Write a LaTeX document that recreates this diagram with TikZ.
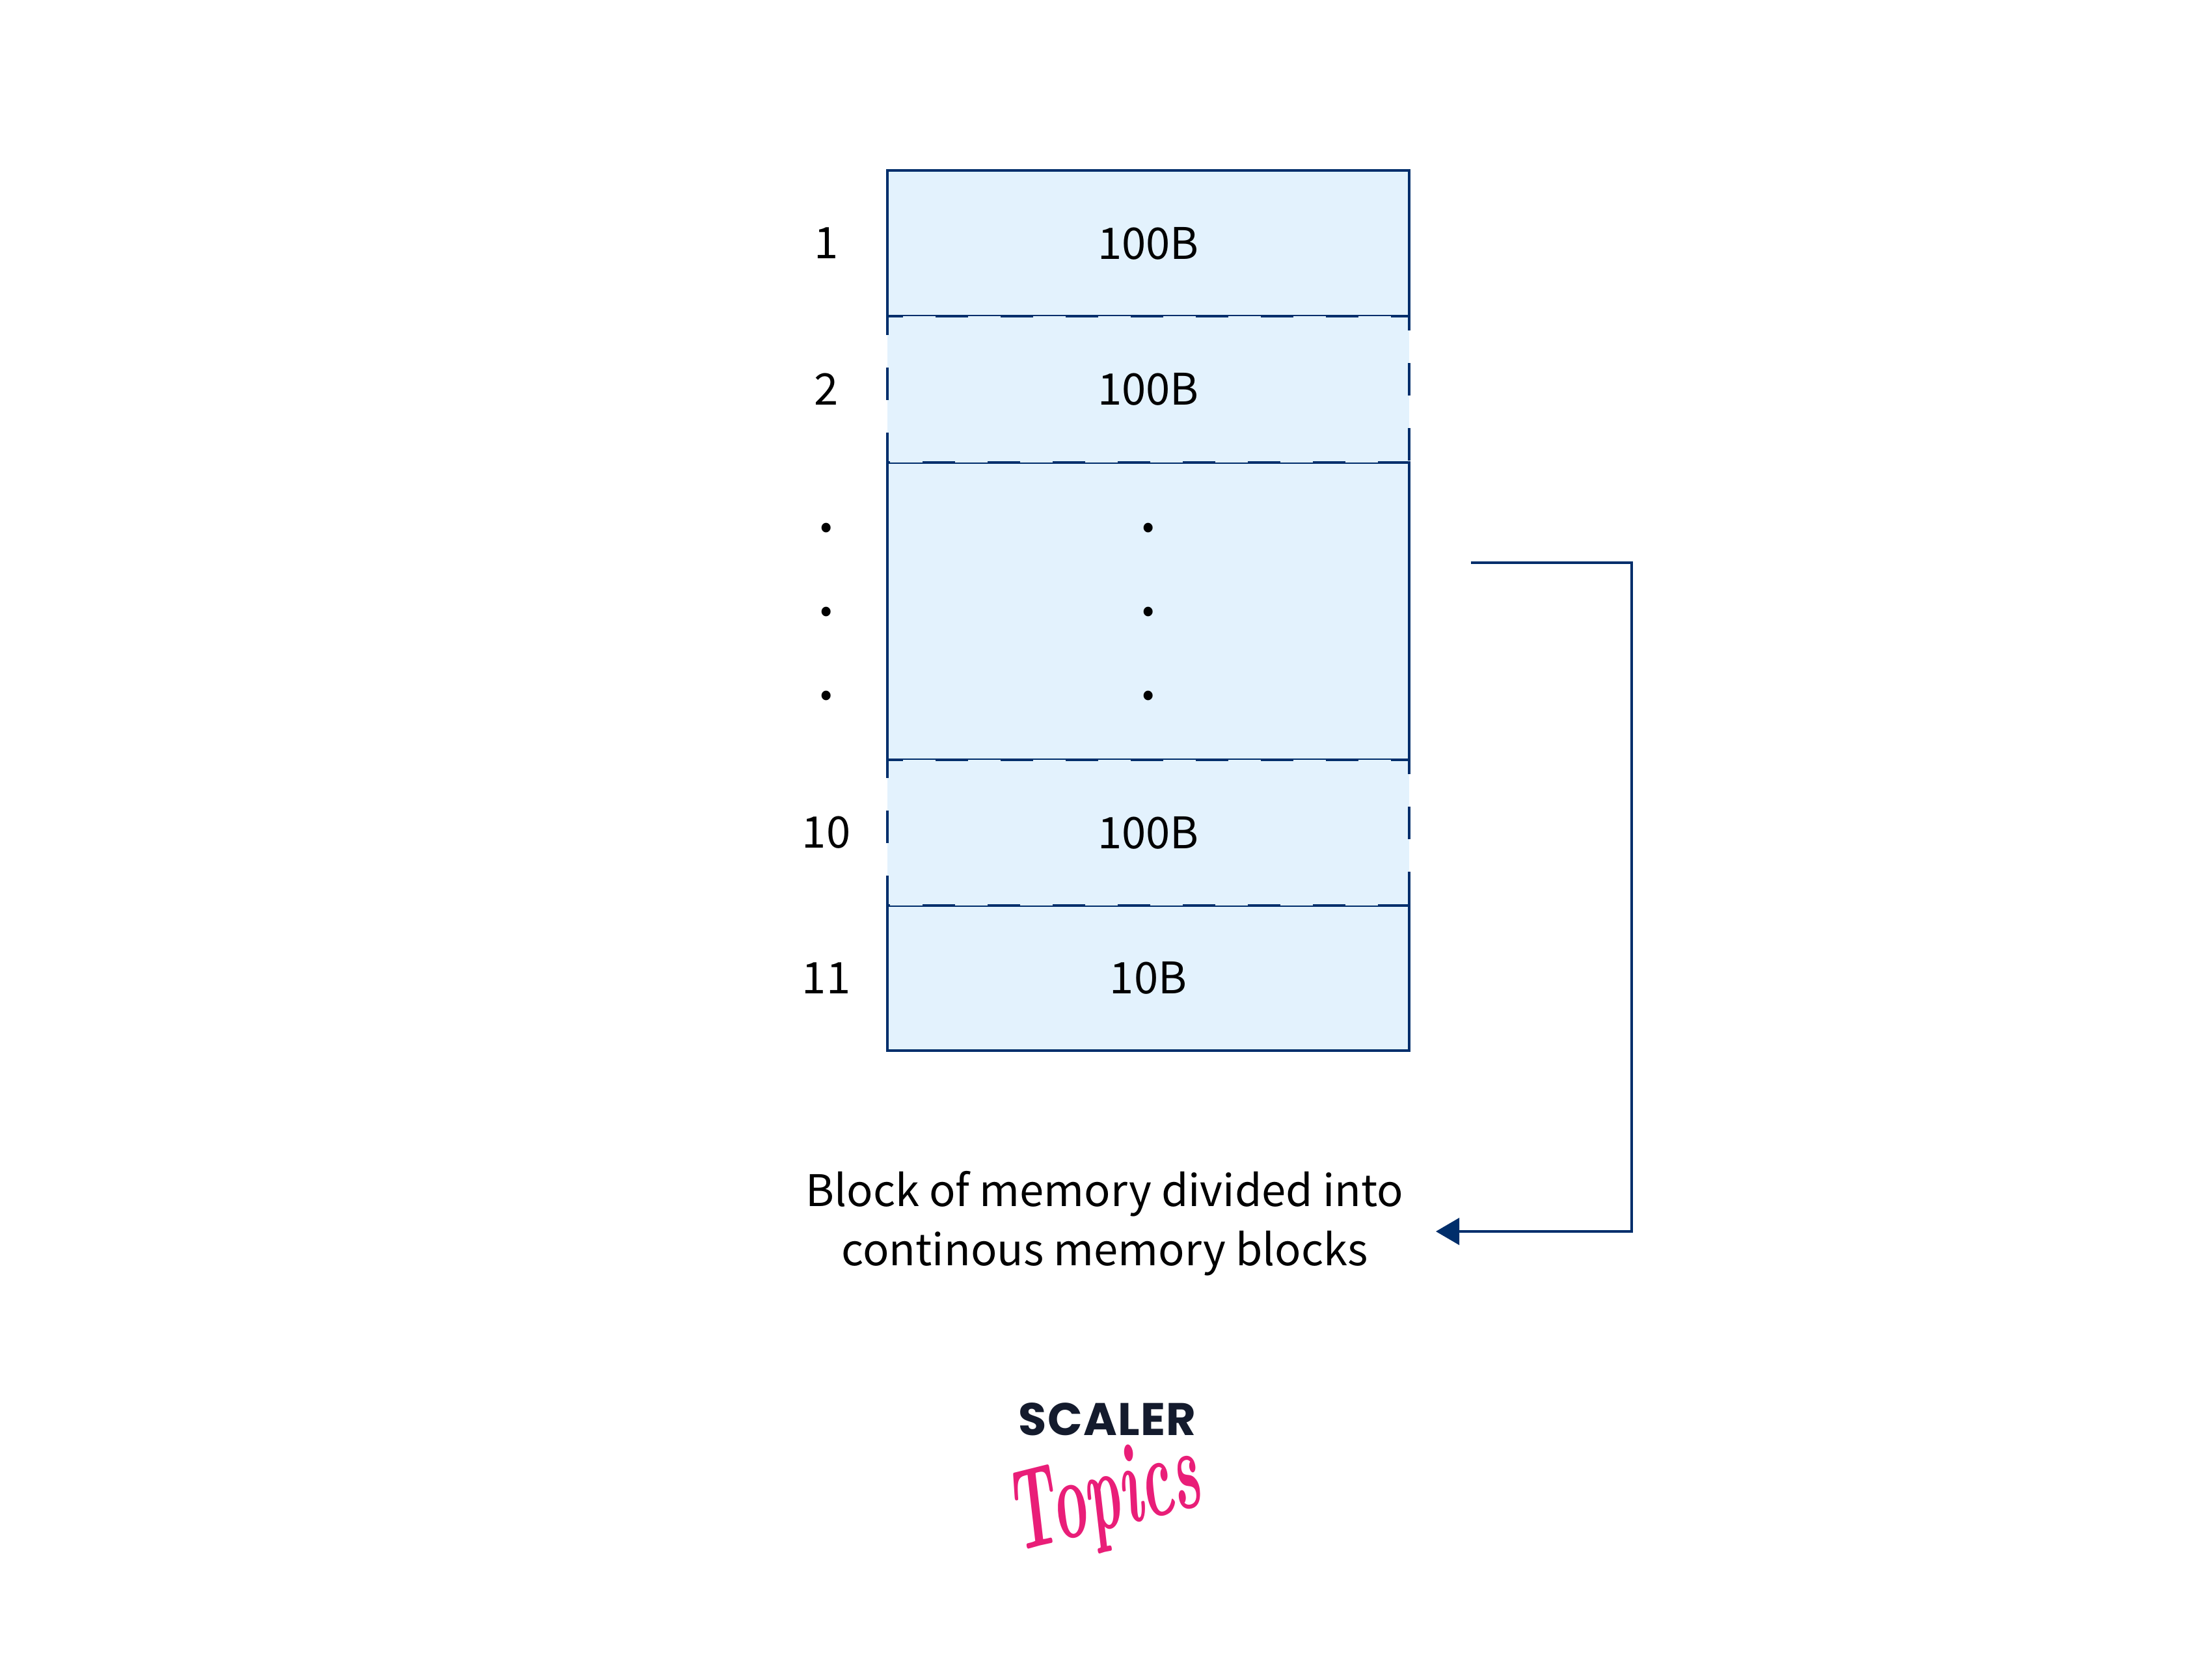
\documentclass[tikz,border=0pt]{standalone}
\usepackage{fontspec}
\usepackage{tikz}
\usepackage{graphicx}
\usetikzlibrary{positioning,arrows.meta}
\newfontfamily\memfont{Noto Sans CJK SC}
\newfontfamily\scalerfont[LetterSpace=2]{Poppins}
\definecolor{MemBlue}{HTML}{E3F2FD}
\definecolor{MemNavy}{HTML}{002E6B}
\definecolor{LogoDark}{HTML}{141B2D}
\definecolor{LogoPink}{HTML}{E91E78}

\begin{document}
\begin{tikzpicture}[
        MemText/.style={
            font=\memfont\fontsize{19.05}{25.9}\selectfont,
            text=black,
            inner sep=0,
            outer sep=0
        },
        MemDot/.style={
            MemText,
            anchor=base,
            font=\memfont\fontsize{30}{30}\selectfont
        },
        MemCell/.style={
            MemText,
            minimum width=8.02cm,
            fill=MemBlue
        },
        MemSolid/.style={
            MemCell,
            draw=MemNavy,
            line width=0.045cm
        },
        MemDashA/.style={
            draw=MemNavy,
            line width=0.045cm,
            dash pattern=on 0.5cm off 0.5cm,
            dash phase=0.26cm
        },
        MemDashB/.style={
            draw=MemNavy,
            line width=0.045cm,
            dash pattern=on 0.5cm off 0.5cm,
            dash phase=0.02cm
        }
    ]
    \useasboundingbox (0,0) rectangle (34,25.8);
    
    % solid cells
    \node[MemSolid,minimum height=2.24cm](Row1) at (17.65,22.06){100B};
    \node[MemSolid,minimum height=4.57cm](RowMid) at (17.65,16.405){};
    \node[MemSolid,minimum height=2.23cm](Row11) at (17.65,10.765){10B};
    
    % dashed cells
    \node[MemCell,minimum height=2.25cm,below=0cm of Row1](Row2){100B};
    \draw[MemDashA] (Row2.north west)--(Row2.north east)--(Row2.south east);
    \draw[MemDashB] (Row2.south east)--(Row2.south west)--(Row2.north west);
    \node[MemCell,minimum height=2.24cm,above=0cm of Row11](Row10){100B};
    \draw[MemDashA] (Row10.north west)--(Row10.north east)--(Row10.south east);
    \draw[MemDashB] (Row10.south east)--(Row10.south west)--(Row10.north west);
    
    % cell numbers
    \node[MemText](Num1) at (12.70,22.06){1};
    \node[MemText](Num2) at (12.70,19.815){2};
    \node[MemText](Num10) at (12.70,13.00){10};
    \node[MemText](Num11) at (12.70,10.765){11};
    
    % dots
    \node[MemDot](NumDotA) at (12.70,17.62){.};
    \node[MemDot](NumDotB) at (12.70,16.33){.};
    \node[MemDot](NumDotC) at (12.70,15.04){.};
    \node[MemDot](MidDotA) at (17.65,17.62){.};
    \node[MemDot](MidDotB) at (17.65,16.33){.};
    \node[MemDot](MidDotC) at (17.65,15.04){.};
    
    % caption and connector
    \node[MemText,align=center](Caption) at (16.98,6.99){Block of memory divided into\\continous memory blocks};
    \coordinate (MemOut) at (22.61,17.15);
    \coordinate (MemIn) at (22.07,6.87);
    \draw[draw=MemNavy,fill=none,line width=0.04cm,-{Triangle[length=0.36cm,width=0.41cm,fill=MemNavy]}]
        (MemOut)--++(0:2.47)coordinate (MemTurn)|-(MemIn);
    
    % logo
    \node[inner sep=0,text=LogoDark,font=\scalerfont\bfseries\fontsize{20}{20}\selectfont](LogoTop) at (17.02,3.98){SCALER};
    \node[inner sep=0,text=LogoPink,rotate=14,font=\bfseries\itshape\fontsize{50}{50}\selectfont](LogoSub) at (16.98,2.72){\scalebox{0.52}[1.0]{Topics}};
    
\end{tikzpicture}
\end{document}
